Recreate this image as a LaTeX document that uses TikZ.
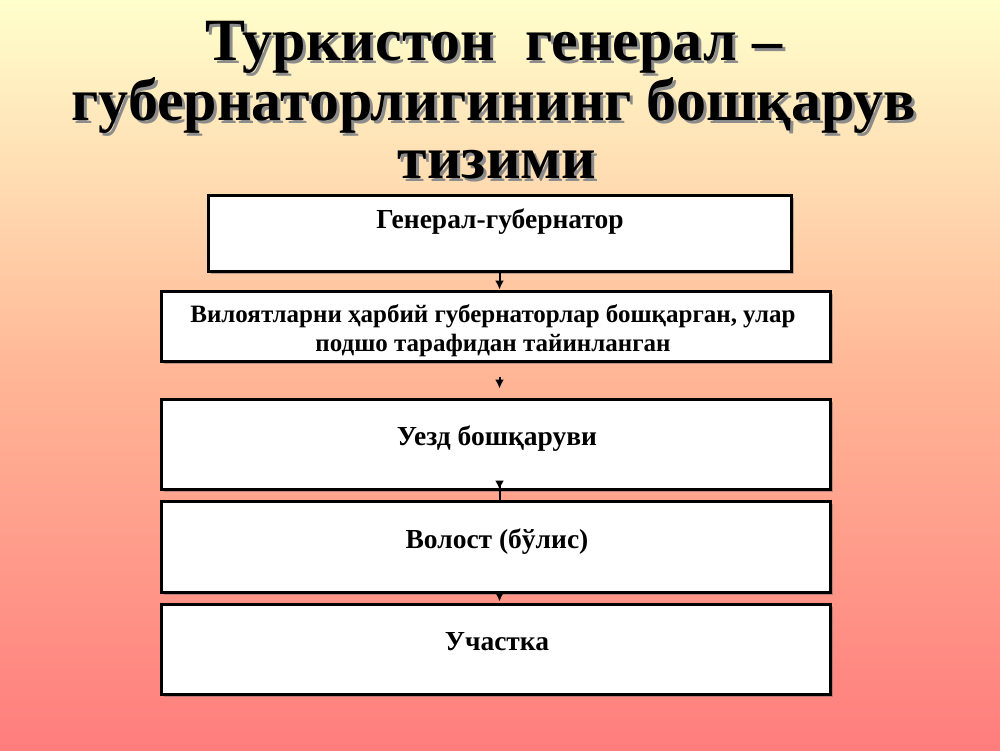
\documentclass[tikz,border=0pt]{standalone}
\usepackage{fontspec}
\setmainfont{Liberation Serif}
\usetikzlibrary{arrows.meta,shadows}
\definecolor{bgtop}{RGB}{255,255,204}
\definecolor{bgmid}{RGB}{255,182,150}
\definecolor{bgbot}{RGB}{255,125,125}
\newcommand\shadowed[1]{\makebox[0pt][l]{\hspace{3pt}\raisebox{-3pt}{\color{black!45}#1}}#1}
\tikzset{
  box/.style={draw=black, line width=3pt, fill=white, inner sep=0pt,
    drop shadow={shadow xshift=2.5pt, shadow yshift=-2.5pt, opacity=0.45, fill=black!60}},
  txt/.style={font=\fontsize{27.5}{30}\selectfont\bfseries, inner sep=0pt, align=center},
  txtb/.style={font=\fontsize{25}{30}\selectfont\bfseries, inner sep=0pt, align=center},
  ttl/.style={font=\fontsize{60}{58.5}\selectfont\bfseries, inner sep=0pt, align=center},
  arr/.style={line width=2pt, -{Latex[length=9pt,width=9pt]}}
}
\begin{document}
\begin{tikzpicture}[x=1pt,y=-1pt]
\useasboundingbox (0,0) rectangle (1000,750);
\shade[top color=bgtop, bottom color=bgbot, middle color=bgmid] (0,0) rectangle (1000,750);

% title with shadow
\node[ttl, anchor=base] (title) at (494,178.5)
  {\shadowed{Туркистон\ \ генерал –}\\
   \shadowed{губернаторлигининг бошқарув}\\
   \hspace{6pt}\shadowed{тизими}};

% boxes
\node[box, minimum width=583pt, minimum height=76pt] (b1) at (499.5,233) {};
\node[box, minimum width=669pt, minimum height=70pt] (b2) at (495.5,326) {};
\node[box, minimum width=669pt, minimum height=90pt] (b3) at (495.5,444) {};
\node[box, minimum width=669pt, minimum height=91pt] (b4) at (495.5,546.5) {};
\node[box, minimum width=669pt, minimum height=90pt] (b5) at (495.5,649) {};

% texts
\node[txt, anchor=base] (l1) at (500,228) {Генерал-губернатор};
\node[txtb, anchor=base] (l2a) at (493,322) {Вилоятларни ҳарбий губернаторлар бошқарган, улар};
\node[txtb, anchor=base] (l2b) at (493,351) {подшо тарафидан тайинланган};
\node[txt, anchor=base] (l3) at (497,445) {Уезд бошқаруви};
\node[txt, anchor=base] (l4) at (497,548) {Волост (бўлис)};
\node[txt, anchor=base] (l5) at (497,650) {Участка};

% arrows
\draw[arr] (b1.south) -- (b1.south |- b2.north);
\draw[arr, shorten <=14pt, shorten >=9pt] (b1.south |- b2.south) -- (b1.south |- b3.north);
\draw[arr, shorten <=-12pt, shorten >=10pt] (b1.south |- b3.south) -- (b1.south |- b4.north);
\draw[arr, shorten <=-4pt, shorten >=1pt] (b1.south |- b4.south) -- (b1.south |- b5.north);
\end{tikzpicture}
\end{document}
